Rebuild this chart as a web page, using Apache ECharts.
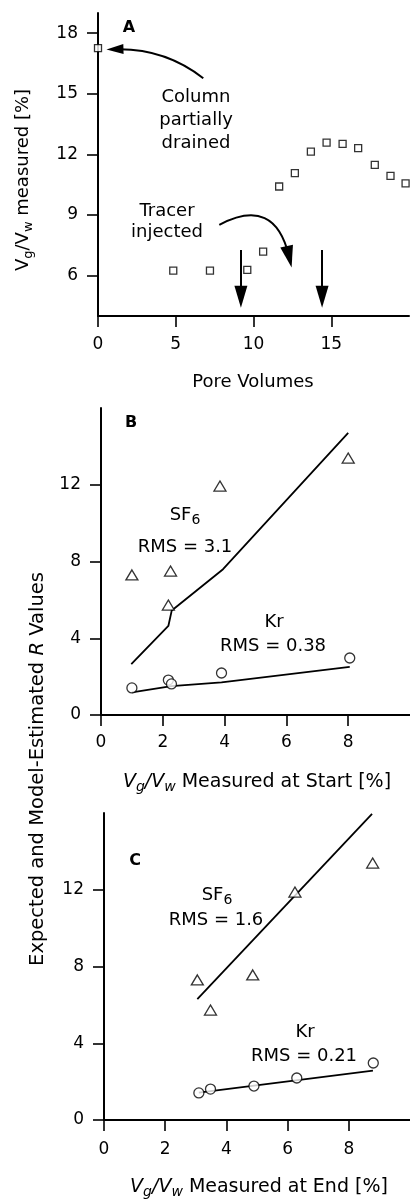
<!DOCTYPE html>
<html>
<head>
<meta charset="utf-8">
<script src="https://cdn.jsdelivr.net/npm/echarts@6/dist/echarts.min.js"></script>
<style>
  html, body { margin: 0; padding: 0; background: #fff; }
  #chart { width: 410px; height: 1199px; }
</style>
</head>
<body>
<div id="chart"></div>
<script>
// ---- panel A: gas content during the run ----
const poreVolumes = [0, 4.84, 7.2, 9.6, 10.62, 11.65, 12.66, 13.69, 14.7, 15.73, 16.73, 17.8, 18.81, 19.78];
const gasRatioA = [17.26, 6.25, 6.25, 6.28, 7.19, 10.41, 11.07, 12.14, 12.58, 12.52, 12.31, 11.48, 10.94, 10.57];
const ticksAx = [0, 5, 10, 15];
const ticksAy = [6, 9, 12, 15, 18];
// annotation arrows (data units): [from, to]
const tracerArrows = [[[9.19, 7.27], [9.19, 4.95]], [[14.41, 7.27], [14.41, 4.95]]];
const drainedArrow = [[6.77, 15.77], [1.09, 17.2]];
const injectedArrow = [[7.8, 8.51], [12.29, 6.93]];

// ---- panel B: R vs Vg/Vw at start ----
const sf6StartX = [1.0, 2.25, 2.18, 3.85, 8.0];
const sf6StartR = [7.3, 7.5, 5.73, 11.93, 13.39];
const krStartX = [1.0, 2.18, 2.28, 3.9, 8.05];
const krStartR = [1.41, 1.82, 1.62, 2.19, 2.97];
const sf6StartModelX = [0.98, 2.18, 2.29, 3.95, 8.0];
const sf6StartModelR = [2.65, 4.64, 5.45, 7.6, 14.7];
const krStartModelX = [1.0, 2.28, 3.9, 8.05];
const krStartModelR = [1.18, 1.5, 1.7, 2.51];

// ---- panel C: R vs Vg/Vw at end ----
const sf6EndX = [3.05, 3.48, 4.86, 6.24, 8.78];
const sf6EndR = [7.3, 5.73, 7.56, 11.88, 13.39];
const krEndX = [3.1, 3.48, 4.9, 6.3, 8.8];
const krEndR = [1.41, 1.61, 1.77, 2.19, 2.97];
const sf6EndModelX = [3.05, 8.76];
const sf6EndModelR = [6.3, 15.95];
const krEndModelX = [3.1, 8.79];
const krEndModelR = [1.43, 2.57];

const ticksRx = [0, 2, 4, 6, 8];
const ticksRy = [0, 4, 8, 12];

const FONT = '"DejaVu Sans", Verdana, sans-serif';
const zip = (xs, ys) => xs.map((x, i) => [x, ys[i]]);

function xAxis(grid, max, ticks, margin) {
  return {
    type: 'value', gridIndex: grid, min: 0, max: max,
    axisLine: { show: true, onZero: false, lineStyle: { color: '#000', width: 2 } },
    axisTick: { show: true, length: 11, customValues: ticks, lineStyle: { color: '#000', width: 1.6 } },
    axisLabel: { customValues: ticks, margin: margin, color: '#000', fontSize: 17, fontFamily: FONT },
    splitLine: { show: false }
  };
}
function yAxis(grid, min, max, ticks) {
  return {
    type: 'value', gridIndex: grid, min: min, max: max,
    axisLine: { show: true, onZero: false, lineStyle: { color: '#000', width: 2 } },
    axisTick: { show: true, length: 11, customValues: ticks, lineStyle: { color: '#000', width: 1.6 } },
    axisLabel: { customValues: ticks, margin: 20, color: '#000', fontSize: 17, fontFamily: FONT },
    splitLine: { show: false }
  };
}

const open = { color: '#fff', borderColor: '#000', borderWidth: 1.3 };
function marks(grid, xs, ys, symbol, size) {
  return {
    type: 'scatter', xAxisIndex: grid, yAxisIndex: grid, data: zip(xs, ys),
    symbol: symbol, symbolSize: size, itemStyle: open, z: 5, silent: true
  };
}
function model(grid, xs, ys) {
  return {
    type: 'line', xAxisIndex: grid, yAxisIndex: grid, data: zip(xs, ys),
    showSymbol: false, lineStyle: { color: '#000', width: 1.8 }, z: 3, silent: true
  };
}

// text helpers
function richSet(size) {
  const base = { fontSize: size, fontFamily: FONT, fill: '#000', lineHeight: 24, verticalAlign: 'middle' };
  const sub = Math.round(size * 0.72);
  return {
    n: base,
    i: Object.assign({}, base, { fontStyle: 'italic' }),
    s: { fontSize: sub, fontFamily: FONT, fill: '#000', lineHeight: 12, verticalAlign: 'bottom' },
    si: { fontSize: sub, fontFamily: FONT, fontStyle: 'italic', fill: '#000', lineHeight: 12, verticalAlign: 'bottom' },
    s6: { fontSize: 14, fontFamily: FONT, fill: '#000', lineHeight: 10, verticalAlign: 'bottom' }
  };
}
function label(x, y, text, opts) {
  const size = (opts && opts.size) || 18;
  const style = Object.assign({
    text: text, rich: richSet(size), fill: '#000', fontSize: size, fontFamily: FONT,
    align: 'center', verticalAlign: 'middle', textAlign: 'center', textVerticalAlign: 'middle'
  }, opts && opts.style);
  return { type: 'text', x: x, y: y, rotation: (opts && opts.rotation) || 0, style: style, silent: true };
}
const bold = { style: { fontWeight: 'bold', fontSize: 16 } };

const chart = echarts.init(document.getElementById('chart'));
chart.setOption({
  backgroundColor: '#fff',
  animation: false,
  grid: [
    { left: 98, top: 13, width: 311, height: 303 },
    { left: 101, top: 408, width: 311, height: 307 },
    { left: 104, top: 813, width: 311, height: 307 }
  ],
  xAxis: [xAxis(0, 20, ticksAx, 20), xAxis(1, 10, ticksRx, 19), xAxis(2, 10, ticksRx, 21)],
  yAxis: [yAxis(0, 4, 19, ticksAy), yAxis(1, 0, 16, ticksRy), yAxis(2, 0, 16, ticksRy)],
  series: [
    marks(0, poreVolumes, gasRatioA, 'rect', 7),
    {
      type: 'lines', coordinateSystem: 'cartesian2d', xAxisIndex: 0, yAxisIndex: 0,
      symbol: ['none', 'triangle'], symbolSize: [1, [13, 22]],
      lineStyle: { color: '#000', width: 2, opacity: 1 }, z: 6, silent: true,
      data: tracerArrows.map(c => ({ coords: c }))
        .concat([{ coords: injectedArrow, lineStyle: { curveness: 0.65 } }])
    },
    {
      type: 'lines', coordinateSystem: 'cartesian2d', xAxisIndex: 0, yAxisIndex: 0,
      symbol: ['none', 'triangle'], symbolSize: [1, [10, 17]],
      lineStyle: { color: '#000', width: 2, opacity: 1, curveness: -0.18 }, z: 6, silent: true,
      data: [{ coords: drainedArrow }]
    },
    model(1, sf6StartModelX, sf6StartModelR),
    model(1, krStartModelX, krStartModelR),
    marks(1, sf6StartX, sf6StartR, 'triangle', [12, 10]),
    marks(1, krStartX, krStartR, 'circle', 10),
    model(2, sf6EndModelX, sf6EndModelR),
    model(2, krEndModelX, krEndModelR),
    marks(2, sf6EndX, sf6EndR, 'triangle', [12, 10]),
    marks(2, krEndX, krEndR, 'circle', 10)
  ],
  graphic: [
    label(129, 28, 'A', bold),
    label(131, 423, 'B', bold),
    label(135, 861, 'C', bold),
    label(196, 120, 'Column\npartially\ndrained', { style: { lineHeight: 23 } }),
    label(167, 222, 'Tracer\ninjected', { style: { lineHeight: 21 } }),
    label(253, 382, 'Pore Volumes'),
    label(23, 180, '{n|V}{s|g}{n|/V}{s|w}{n| measured [%]}', { rotation: Math.PI / 2 }),
    label(38, 769, '{n|Expected and Model-Estimated }{i|R}{n| Values}', { rotation: Math.PI / 2, size: 19.5 }),
    label(257, 782, '{i|V}{si|g}{i|/V}{si|w}{n| Measured at Start [%]}', { size: 19 }),
    label(259, 1187, '{i|V}{si|g}{i|/V}{si|w}{n| Measured at End [%]}', { size: 19 }),
    label(185, 515, '{n|SF}{s6|6}'),
    label(185, 547, 'RMS = 3.1'),
    label(274, 622, 'Kr'),
    label(273, 646, 'RMS = 0.38'),
    label(217, 895, '{n|SF}{s6|6}'),
    label(216, 920, 'RMS = 1.6'),
    label(305, 1032, 'Kr'),
    label(304, 1056, 'RMS = 0.21')
  ]
});
</script>
</body>
</html>
